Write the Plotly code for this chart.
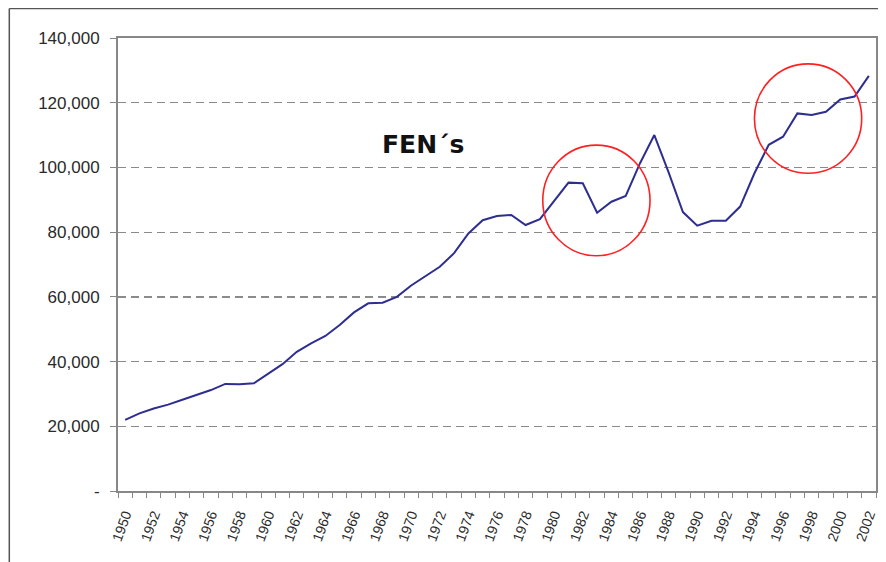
import plotly.graph_objects as go

# ---- data ----
years = list(range(1950, 2003))
fens = [22000, 24000, 25500, 26700, 28200, 29800, 31200, 33100, 33000, 33300,
        36200, 39200, 43000, 45600, 47900, 51300, 55200, 58000, 58200, 60000,
        63500, 66500, 69300, 73500, 79600, 83700, 85000, 85300, 82200, 84000,
        89500, 95300, 95100, 86000, 89400, 91200, 101300, 110000, 98500, 86200,
        82000, 83500, 83500, 87900, 98200, 107000, 109500, 116700, 116200, 117200,
        121000, 121900, 128300]
x_tick_years = list(range(1950, 2003, 2))
x_tick_labels = [str(y) for y in x_tick_years]
y_tick_vals = [0, 20000, 40000, 60000, 80000, 100000, 120000, 140000]
y_tick_labels = ["-", "20,000", "40,000", "60,000", "80,000", "100,000", "120,000", "140,000"]
label_text = "FEN´s"
# highlighted regions (year range, value range)
circle_1 = dict(x=(1979.2, 1986.7), y=(72700, 106900))
circle_2 = dict(x=(1994.0, 2001.5), y=(98200, 132000))
dark_grid_value = 60000

AX = "#878787"
FONT = "Liberation Sans, Arial, sans-serif"

fig = go.Figure()
fig.add_trace(go.Scatter(x=years, y=fens, mode="lines",
                         line=dict(color="#2e2e90", width=2), showlegend=False))

shapes = []
shapes.append(dict(type="line", xref="paper", yref="y", x0=0, x1=1,
                   y0=dark_grid_value, y1=dark_grid_value, layer="between",
                   line=dict(color="#1a1a1a", width=1.5, dash="8px,5px")))
for c in (circle_1, circle_2):
    shapes.append(dict(type="circle", xref="x", yref="y",
                       x0=c["x"][0], x1=c["x"][1], y0=c["y"][0], y1=c["y"][1],
                       line=dict(color="#ff2020", width=1.6), layer="above"))
# outer frame (top and left), at the page edge
shapes.append(dict(type="line", xref="paper", yref="paper", x0=-0.1434, x1=1.02,
                   y0=1.0651, y1=1.0651, line=dict(color="#555555", width=1.5)))
shapes.append(dict(type="line", xref="paper", yref="paper", x0=-0.1434, x1=-0.1434,
                   y0=1.0651, y1=-0.2, line=dict(color="#555555", width=1.5)))

fig.update_layout(
    width=878, height=554,
    margin=dict(l=110, r=8, t=30, b=71),
    paper_bgcolor="white", plot_bgcolor="white",
    shapes=shapes,
    annotations=[dict(text="<b>" + label_text + "</b>", x=1970.8, y=107000,
                      xref="x", yref="y", showarrow=False,
                      font=dict(family="DejaVu Sans, sans-serif", size=25, color="#111111"))],
    xaxis=dict(range=[1949.5, 2002.5], tickmode="array", tickvals=x_tick_years,
               ticktext=x_tick_labels, tickangle=-70, ticks="outside", ticklen=8,
               tickcolor="rgba(0,0,0,0)",
               tickfont=dict(family=FONT, size=14, color="#2a2a2a"),
               showgrid=False, zeroline=False, showline=True, linecolor=AX,
               linewidth=2, mirror=True,
               minor=dict(tickmode="linear", tick0=1949.5, dtick=1, ticks="outside",
                          ticklen=5, tickcolor=AX, tickwidth=1, showgrid=False)),
    yaxis=dict(range=[0, 140000], tickmode="array", tickvals=y_tick_vals,
               ticktext=y_tick_labels, ticks="outside", ticklen=6, tickcolor=AX,
               ticklabelstandoff=7,
               tickfont=dict(family=FONT, size=17, color="#2a2a2a"),
               showgrid=True, gridcolor="#8a8a8a", griddash="8px,5px", gridwidth=1,
               zeroline=False, showline=True, linecolor=AX, linewidth=2, mirror=True),
)

fig.write_html("out.html")
